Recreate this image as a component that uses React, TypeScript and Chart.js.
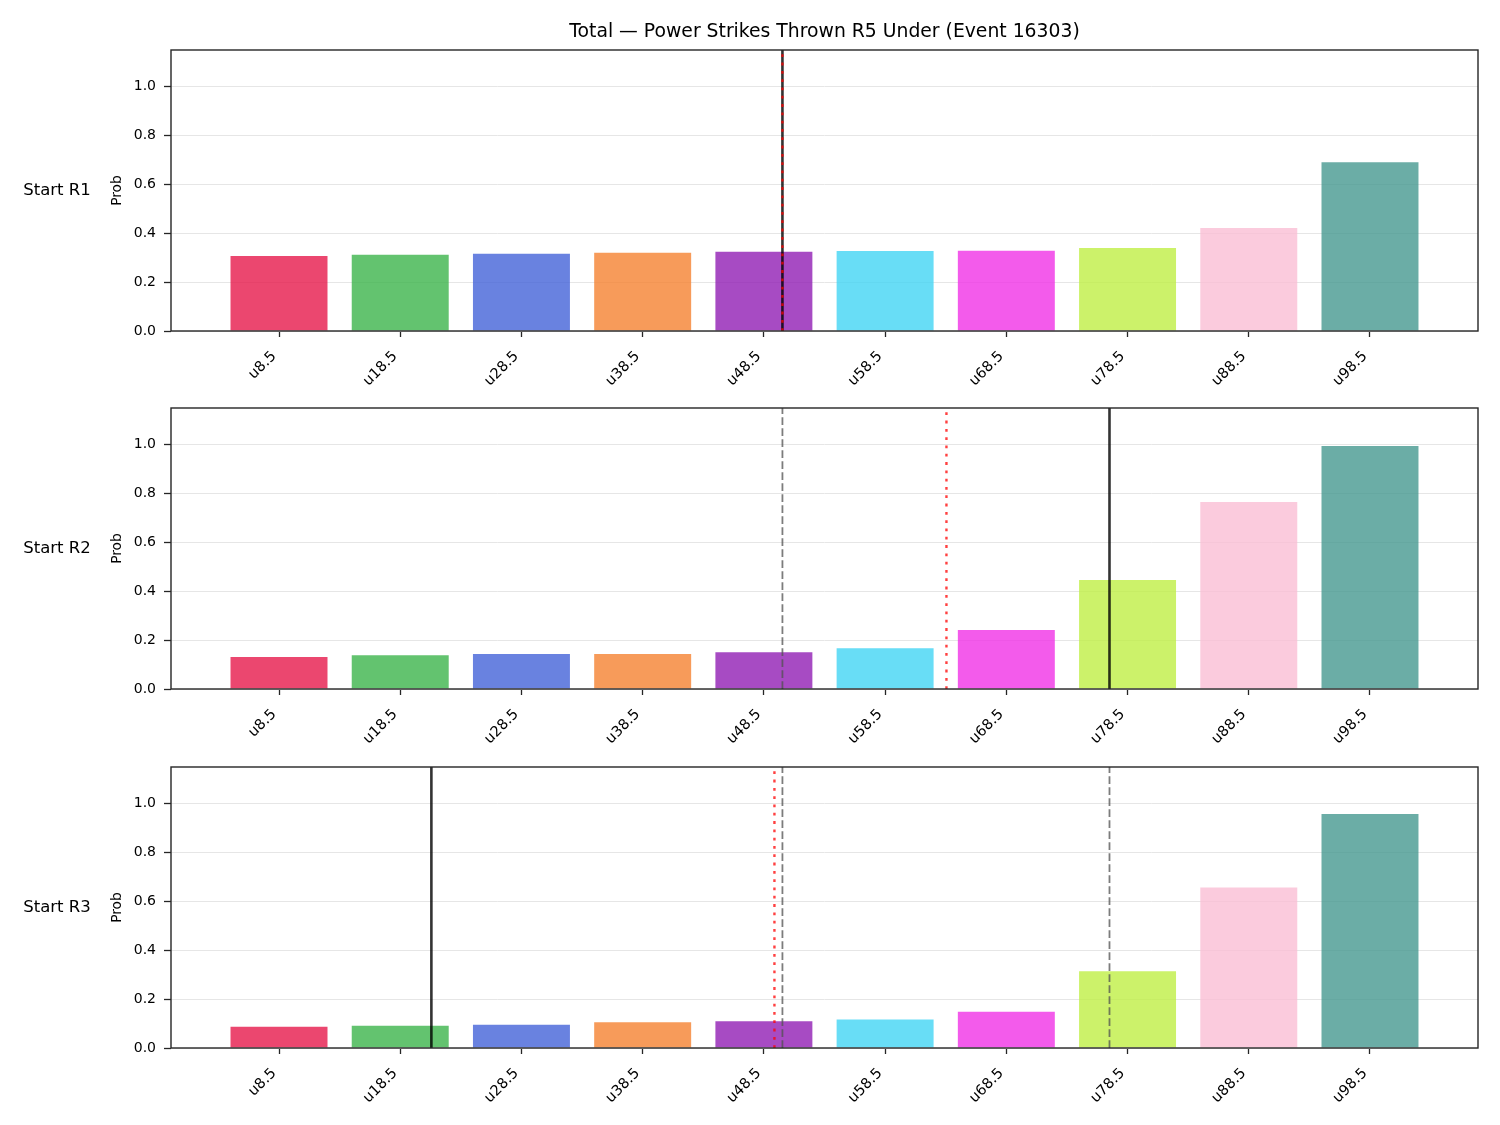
import React, { useEffect, useRef } from "react";
import { Chart, registerables } from "chart.js";

Chart.register(...registerables);

const TITLE = "Total — Power Strikes Thrown R5 Under (Event 16303)";
const categories = ["u8.5", "u18.5", "u28.5", "u38.5", "u48.5", "u58.5", "u68.5", "u78.5", "u88.5", "u98.5"];
const rowLabels = ["Start R1", "Start R2", "Start R3"];
const yTicks = [0, 0.2, 0.4, 0.6, 0.8, 1.0];
const yMax = 1.147;
const xMin = -0.891;
const xMax = 9.891;

const r1Values = [0.306, 0.311, 0.315, 0.319, 0.323, 0.327, 0.328, 0.339, 0.420, 0.689];
const r2Values = [0.131, 0.138, 0.143, 0.143, 0.150, 0.166, 0.241, 0.445, 0.763, 0.992];
const r3Values = [0.087, 0.091, 0.095, 0.105, 0.109, 0.116, 0.148, 0.313, 0.655, 0.955];

// vertical marker positions (in category-index units)
const r1Solid = [4.153];
const r1Dashed: number[] = [];
const r1Dotted = [4.153];
const r2Solid = [6.851];
const r2Dashed = [4.153];
const r2Dotted = [5.506];
const r3Solid = [1.257];
const r3Dashed = [4.153, 6.851];
const r3Dotted = [4.087];

const barColors = [
  "rgba(230,25,75,0.8)",
  "rgba(60,180,75,0.8)",
  "rgba(67,99,216,0.8)",
  "rgba(245,130,49,0.8)",
  "rgba(145,30,180,0.8)",
  "rgba(66,212,244,0.8)",
  "rgba(240,50,230,0.8)",
  "rgba(191,239,69,0.8)",
  "rgba(250,190,212,0.8)",
  "rgba(70,153,144,0.8)",
];

const rows = [
  { label: rowLabels[0], values: r1Values, solid: r1Solid, dashed: r1Dashed, dotted: r1Dotted },
  { label: rowLabels[1], values: r2Values, solid: r2Solid, dashed: r2Dashed, dotted: r2Dotted },
  { label: rowLabels[2], values: r3Values, solid: r3Solid, dashed: r3Dashed, dotted: r3Dotted },
];

const canvasTops = [0, 358, 717];
const FONT = "'DejaVu Sans', sans-serif";
const DARK = "#262626";

function vline(x: number, kind: string) {
  const base: any = {
    type: "line",
    data: [
      { x, y: 0 },
      { x, y: yMax },
    ],
    pointRadius: 0,
    fill: false,
    tension: 0,
  };
  if (kind === "solid") {
    return { ...base, borderColor: "rgba(0,0,0,0.8)", borderWidth: 2.6, order: 2 };
  }
  if (kind === "dashed") {
    return { ...base, borderColor: "rgba(80,80,80,0.75)", borderWidth: 1.8, borderDash: [7.7, 3.3], order: 3 };
  }
  return { ...base, borderColor: "rgba(255,0,0,0.75)", borderWidth: 2.4, borderDash: [2.8, 5.5], order: 1 };
}

function Panel({ idx }: { idx: number }) {
  const ref = useRef<HTMLCanvasElement>(null);
  useEffect(() => {
    const row = rows[idx];
    const decor = {
      id: "decor",
      afterDatasetsDraw(chart: any) {
        const { ctx, chartArea } = chart;
        ctx.save();
        ctx.strokeStyle = DARK;
        ctx.lineWidth = 1.4;
        ctx.strokeRect(chartArea.left, chartArea.top, chartArea.right - chartArea.left, chartArea.bottom - chartArea.top);
        const cy = (chartArea.top + chartArea.bottom) / 2;
        ctx.fillStyle = "#000";
        ctx.textAlign = "center";
        ctx.textBaseline = "middle";
        ctx.font = `16.5px ${FONT}`;
        ctx.fillText(row.label, 57, cy);
        ctx.save();
        ctx.translate(117, cy);
        ctx.rotate(-Math.PI / 2);
        ctx.font = `13.8px ${FONT}`;
        ctx.fillText("Prob", 0, 0);
        ctx.restore();
        if (idx === 0) {
          ctx.font = `18.8px ${FONT}`;
          ctx.fillText(TITLE, (chartArea.left + chartArea.right) / 2, 32);
        }
        ctx.restore();
      },
    };
    const datasets: any[] = [
      {
        type: "bar",
        data: row.values.map((v, i) => ({ x: i, y: v })),
        backgroundColor: barColors,
        borderWidth: 0,
        barPercentage: 0.8,
        categoryPercentage: 1.0,
        order: 10,
      },
      ...row.dashed.map((x) => vline(x, "dashed")),
      ...row.solid.map((x) => vline(x, "solid")),
      ...row.dotted.map((x) => vline(x, "dotted")),
    ];
    const chart = new Chart(ref.current as HTMLCanvasElement, {
      type: "bar",
      data: { datasets },
      plugins: [decor],
      options: {
        animation: false,
        responsive: false,
        devicePixelRatio: 1,
        layout: { padding: { left: 0, right: 22, top: 50, bottom: 0 } },
        plugins: { legend: { display: false }, tooltip: { enabled: false }, title: { display: false } },
        scales: {
          x: {
            type: "linear",
            min: xMin,
            max: xMax,
            offset: false,
            afterBuildTicks: (s: any) => {
              s.ticks = categories.map((_, i) => ({ value: i }));
            },
            afterFit: (s: any) => {
              s.height = 69;
            },
            ticks: {
              autoSkip: false,
              minRotation: 45,
              maxRotation: 45,
              padding: 11,
              labelOffset: -5,
              color: "#000",
              font: { family: FONT, size: 14.5 },
              callback: (v: any) => categories[v as number],
            },
            grid: { offset: false, drawOnChartArea: false, drawTicks: true, tickLength: 6, tickColor: DARK, tickWidth: 1.3 },
            border: { display: false },
          },
          y: {
            type: "linear",
            min: 0,
            max: yMax,
            afterBuildTicks: (s: any) => {
              s.ticks = yTicks.map((v) => ({ value: v }));
            },
            afterFit: (s: any) => {
              s.width = 171;
            },
            ticks: {
              padding: 8,
              color: "#000",
              font: { family: FONT, size: 14 },
              callback: (v: any) => Number(v).toFixed(1),
            },
            grid: { color: "#e6e6e6", lineWidth: 1, drawTicks: true, tickLength: 7, tickColor: DARK, tickWidth: 1.3 },
            border: { display: false },
          },
        },
      } as any,
    });
    return () => chart.destroy();
  }, [idx]);
  return (
    <canvas
      ref={ref}
      width={1500}
      height={400}
      style={{ position: "absolute", left: 0, top: canvasTops[idx], width: 1500, height: 400, display: "block" }}
    />
  );
}

export default function App() {
  return (
    <div style={{ position: "absolute", left: 0, top: 0, width: 1500, height: 1125, background: "#fff" }}>
      <Panel idx={0} />
      <Panel idx={1} />
      <Panel idx={2} />
    </div>
  );
}
